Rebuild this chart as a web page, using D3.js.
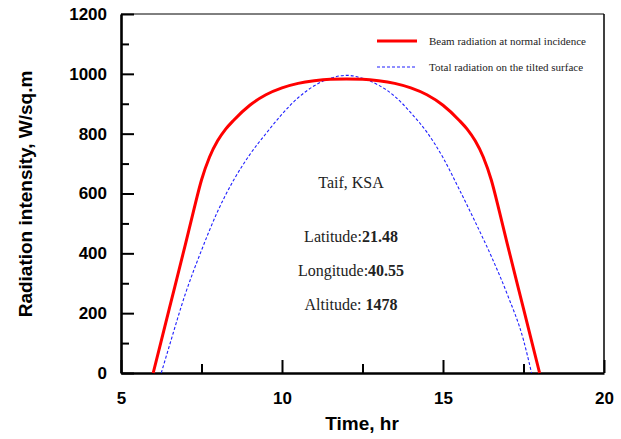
<!DOCTYPE html>
<html>
<head>
<meta charset="utf-8">
<script src="https://cdn.jsdelivr.net/npm/d3@7"></script>
<style>
  body { margin: 0; background: #fff; }
  svg { display: block; }
</style>
</head>
<body>
<div id="chart"></div>
<script>
// hours and radiation values
const beamHours = [6.0, 6.5, 7.0, 7.25, 7.5, 7.75, 8.0, 8.25, 8.5, 9.0, 9.5, 10.0, 10.5, 11.0, 11.5, 12.0,
                   12.5, 13.0, 13.5, 14.0, 14.5, 15.0, 15.5, 15.75, 16.0, 16.25, 16.5, 16.75, 17.0, 17.5, 18.0];
const beamValues = [0, 215, 430, 540, 645, 722, 776, 815, 845, 895, 930, 953, 968, 977, 982, 983,
                    982, 977, 968, 953, 930, 895, 845, 815, 776, 722, 645, 540, 430, 215, 0];

const tiltHours = [6.25, 6.5, 7.0, 7.5, 8.0, 8.5, 9.0, 9.5, 10.0, 10.5, 11.0, 11.5, 12.0,
                   12.5, 13.0, 13.5, 14.0, 14.5, 15.0, 15.5, 16.0, 16.5, 17.0, 17.5, 17.75];
const tiltValues = [0, 90, 265, 410, 540, 645, 730, 800, 865, 920, 960, 985, 995,
                    985, 962, 925, 870, 805, 720, 615, 505, 390, 262, 110, 0];

const xTicks = [5, 10, 15, 20];
const xMinor = [7.5, 12.5, 17.5];
const yTicks = [0, 200, 400, 600, 800, 1000, 1200];
const yMinor = [100, 300, 500, 700, 900, 1100];

const legendLabels = ["Beam radiation at normal incidence", "Total radiation on the tilted surface"];

const width = 621, height = 439;
const margin = {top: 14, right: 17, bottom: 66, left: 121};

const svg = d3.select('#chart').append('svg')
    .attr('width', width)
    .attr('height', height);

const x = d3.scaleLinear().domain([5, 20]).range([margin.left, width - margin.right]);
const y = d3.scaleLinear().domain([0, 1200]).range([height - margin.bottom, margin.top]);

// frame: thin top and right
svg.append('line')
    .attr('x1', x(5)).attr('x2', x(20))
    .attr('y1', y(1200)).attr('y2', y(1200))
    .attr('stroke', '#000').attr('stroke-width', 1);
svg.append('line')
    .attr('x1', x(20)).attr('x2', x(20))
    .attr('y1', y(0)).attr('y2', y(1200))
    .attr('stroke', '#000').attr('stroke-width', 1.5);

const fontAxis = "'Liberation Sans', Arial, sans-serif";

// y axis
svg.append('g')
    .attr('transform', `translate(${margin.left},0)`)
    .call(d3.axisLeft(y).tickValues(yTicks).tickFormat(d3.format('d'))
        .tickSize(-13).tickSizeOuter(0).tickPadding(14));
svg.append('g')
    .attr('transform', `translate(${margin.left},0)`)
    .call(d3.axisLeft(y).tickValues(yMinor).tickSize(-8).tickSizeOuter(0).tickFormat(''))
    .select('.domain').remove();

// x axis
svg.append('g')
    .attr('transform', `translate(0,${height - margin.bottom})`)
    .call(d3.axisBottom(x).tickValues(xTicks).tickFormat(d3.format('d'))
        .tickSize(-13).tickSizeOuter(0).tickPadding(19));
svg.append('g')
    .attr('transform', `translate(0,${height - margin.bottom})`)
    .call(d3.axisBottom(x).tickValues(xMinor).tickSize(-9).tickSizeOuter(0).tickFormat(''))
    .select('.domain').remove();

svg.selectAll('.domain').attr('stroke-width', 2.6);
svg.selectAll('.tick line').attr('stroke-width', 2);
svg.selectAll('.tick text')
    .style('font-family', fontAxis)
    .style('font-size', '17px')
    .style('font-weight', 'bold')
    .attr('fill', '#000');

// axis titles
svg.append('text')
    .attr('x', 362).attr('y', 430)
    .attr('text-anchor', 'middle')
    .style('font-family', fontAxis).style('font-size', '19px').style('font-weight', 'bold')
    .text('Time, hr');

svg.append('text')
    .attr('transform', 'translate(32,194) rotate(-90)')
    .attr('text-anchor', 'middle')
    .style('font-family', fontAxis).style('font-size', '19px').style('font-weight', 'bold')
    .text('Radiation intensity, W/sq.m');

// series
const line = d3.line()
    .x(d => x(d[0]))
    .y(d => y(d[1]))
    .curve(d3.curveMonotoneX);

const tiltData = tiltHours.map((h, i) => [h, tiltValues[i]]);
const beamData = beamHours.map((h, i) => [h, beamValues[i]]);

svg.append('path')
    .datum(tiltData)
    .attr('fill', 'none')
    .attr('stroke', '#1f1fff')
    .attr('stroke-width', 1.1)
    .attr('stroke-dasharray', '3,2')
    .attr('d', line);

svg.append('path')
    .datum(beamData)
    .attr('fill', 'none')
    .attr('stroke', '#ff0000')
    .attr('stroke-width', 3)
    .attr('d', line);

// legend
const fontSerif = "'Liberation Serif', 'Times New Roman', serif";
const legend = svg.append('g');
legend.append('line')
    .attr('x1', 377).attr('x2', 417).attr('y1', 41).attr('y2', 41)
    .attr('stroke', '#ff0000').attr('stroke-width', 3);
legend.append('line')
    .attr('x1', 377).attr('x2', 417).attr('y1', 67).attr('y2', 67)
    .attr('stroke', '#1f1fff').attr('stroke-width', 1.1).attr('stroke-dasharray', '3,2');
legend.selectAll('text')
    .data(legendLabels)
    .join('text')
    .attr('x', 429)
    .attr('y', (d, i) => 45 + i * 26)
    .style('font-family', fontSerif)
    .style('font-size', '11px')
    .attr('fill', '#222')
    .text(d => d);

// location note
const note = svg.append('g')
    .style('font-family', fontSerif)
    .style('font-size', '16px')
    .attr('fill', '#222')
    .attr('text-anchor', 'middle');

note.append('text').attr('x', 351).attr('y', 188).text('Taif, KSA');

const noteRows = [
    ['Latitude:', '21.48'],
    ['Longitude:', '40.55'],
    ['Altitude: ', '1478']
];
noteRows.forEach((r, i) => {
    const t = note.append('text').attr('x', 351).attr('y', 242 + i * 34)
        .attr('xml:space', 'preserve');
    t.append('tspan').text(r[0]);
    t.append('tspan').style('font-weight', 'bold').text(r[1]);
});
</script>
</body>
</html>
